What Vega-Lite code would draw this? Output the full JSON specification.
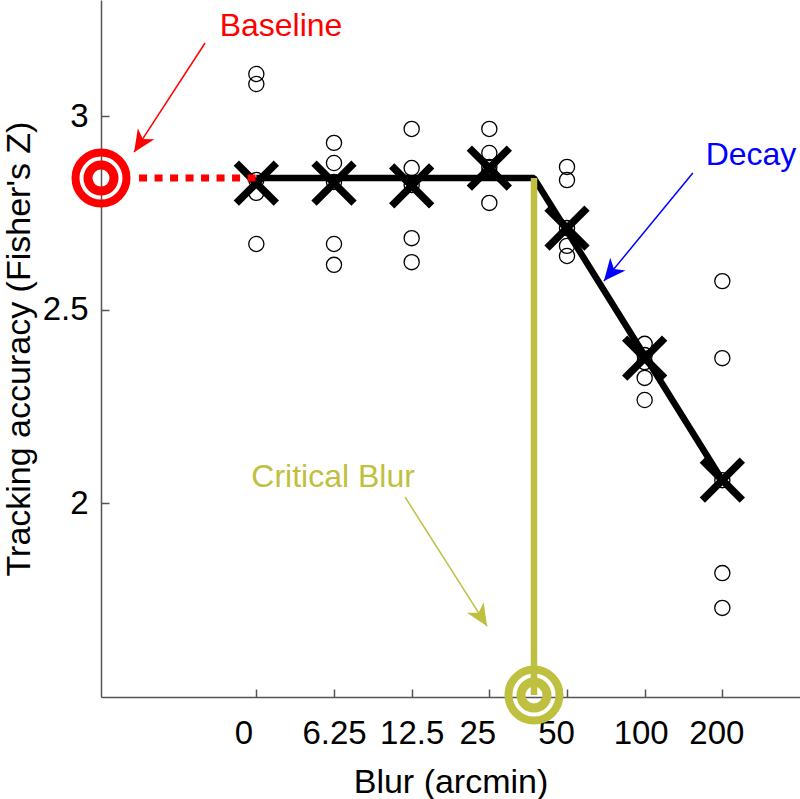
{
  "$schema": "https://vega.github.io/schema/vega-lite/v6.json",
  "width": 699,
  "height": 697,
  "autosize": {"type": "none"},
  "padding": {"left": 101, "top": 0, "right": 0, "bottom": 102},
  "background": "white",
  "config": {
    "view": {"stroke": null},
    "font": "Liberation Sans",
    "text": {"font": "Liberation Sans"}
  },
  "encoding": {
    "x": {
      "field": "x",
      "type": "quantitative",
      "scale": {"domain": [-2, 7], "nice": false, "zero": false},
      "axis": {
        "values": [0, 1, 2, 3, 4, 5, 6],
        "grid": false,
        "tickSize": -8,
        "tickWidth": 1.5,
        "tickColor": "#555555",
        "domainColor": "#555555",
        "domainWidth": 1.5,
        "labelFont": "Liberation Sans",
        "labelFontSize": 33,
        "labelColor": "black",
        "labelBaseline": "alphabetic",
        "labelPadding": 54,
        "labelFlush": false,
        "labelOverlap": false,
        "labelExpr": "datum.value == 0 ? '0' : datum.value == 1 ? '6.25' : datum.value == 2 ? '12.5' : datum.value == 3 ? '25' : datum.value == 4 ? '50' : datum.value == 5 ? '100' : '200'",
        "labelOffset": {
          "condition": [
            {"test": "datum.value == 0", "value": -13},
            {"test": "datum.value == 3", "value": -12},
            {"test": "datum.value == 4", "value": -11},
            {"test": "datum.value == 5", "value": -4},
            {"test": "datum.value == 6", "value": -6}
          ],
          "value": 0
        },
        "title": "Blur (arcmin)",
        "titleFont": "Liberation Sans",
        "titleFontSize": 34,
        "titleFontWeight": "normal",
        "titleColor": "black",
        "titleX": 349.5,
        "titleY": 95,
        "titleBaseline": "alphabetic",
        "titleAlign": "center"
      }
    },
    "y": {
      "field": "y",
      "type": "quantitative",
      "scale": {"domain": [1.5, 3.3], "nice": false, "zero": false},
      "axis": {
        "values": [2, 2.5, 3],
        "grid": false,
        "tickSize": -8,
        "tickWidth": 1.5,
        "tickColor": "#555555",
        "domainColor": "#555555",
        "domainWidth": 1.5,
        "labelFont": "Liberation Sans",
        "labelFontSize": 33,
        "labelColor": "black",
        "labelPadding": 21,
        "labelBaseline": "middle",
        "labelFlush": false,
        "labelOverlap": false,
        "labelExpr": "'' + datum.value",
        "title": "Tracking accuracy (Fisher's Z)",
        "titleFont": "Liberation Sans",
        "titleFontSize": 34,
        "titleFontWeight": "normal",
        "titleColor": "black",
        "titleAngle": -90,
        "titleX": -82,
        "titleY": 348.5,
        "titleBaseline": "middle",
        "titleAlign": "center"
      }
    }
  },
  "layer": [
    {
      "data": {"values": [
        {"x": 0, "y": 3.109}, {"x": 0, "y": 3.083}, {"x": 0, "y": 2.835}, {"x": 0, "y": 2.802}, {"x": 0, "y": 2.670},
        {"x": 1, "y": 2.931}, {"x": 1, "y": 2.879}, {"x": 1, "y": 2.830}, {"x": 1, "y": 2.670}, {"x": 1, "y": 2.616},
        {"x": 2, "y": 2.967}, {"x": 2, "y": 2.866}, {"x": 2, "y": 2.822}, {"x": 2, "y": 2.685}, {"x": 2, "y": 2.623},
        {"x": 3, "y": 2.967}, {"x": 3, "y": 2.905}, {"x": 3, "y": 2.869}, {"x": 3, "y": 2.856}, {"x": 3, "y": 2.776},
        {"x": 4, "y": 2.869}, {"x": 4, "y": 2.835}, {"x": 4, "y": 2.711}, {"x": 4, "y": 2.665}, {"x": 4, "y": 2.639},
        {"x": 5, "y": 2.412}, {"x": 5, "y": 2.383}, {"x": 5, "y": 2.365}, {"x": 5, "y": 2.324}, {"x": 5, "y": 2.267},
        {"x": 6, "y": 2.574}, {"x": 6, "y": 2.375}, {"x": 6, "y": 2.060}, {"x": 6, "y": 1.820}, {"x": 6, "y": 1.730}
      ]},
      "mark": {"type": "point", "shape": "circle", "filled": false, "stroke": "black", "strokeWidth": 1.3, "size": 230, "opacity": 1}
    },
    {
      "data": {"values": [{"x": 0, "y": 2.84}, {"x": 3.575, "y": 2.84}, {"x": 6, "y": 2.06}]},
      "mark": {"type": "line", "color": "black", "strokeWidth": 6.5, "strokeCap": "butt", "strokeJoin": "bevel"}
    },
    {
      "data": {"values": [
        {"x": 0, "y": 2.827}, {"x": 1, "y": 2.827}, {"x": 2, "y": 2.820}, {"x": 3, "y": 2.866},
        {"x": 4, "y": 2.711}, {"x": 5, "y": 2.375}, {"x": 6, "y": 2.060}
      ]},
      "mark": {"type": "point", "shape": "M-1,-1L1,1M1,-1L-1,1", "filled": false, "stroke": "black", "strokeWidth": 7.5, "strokeCap": "butt", "size": 1600, "opacity": 1}
    },
    {
      "data": {"values": [{"x": -1.51, "y": 2.84}, {"x": 0, "y": 2.84}]},
      "mark": {"type": "line", "color": "#FF0000", "strokeWidth": 7, "strokeDash": [8, 7.5], "strokeCap": "butt"}
    },
    {
      "data": {"values": [{"x": 3.575, "y": 2.84, "y2": 1.505}]},
      "mark": {"type": "rule", "color": "#BFBF40", "strokeWidth": 6.5, "strokeCap": "butt"},
      "encoding": {"y2": {"field": "y2"}}
    },
    {
      "data": {"values": [{"x": -2, "y": 2.84}]},
      "layer": [
        {"mark": {"type": "point", "shape": "circle", "filled": false, "stroke": "#FF0000", "strokeWidth": 8, "size": 2601, "opacity": 1}},
        {"mark": {"type": "point", "shape": "circle", "filled": false, "stroke": "#FF0000", "strokeWidth": 9, "size": 676, "opacity": 1}}
      ]
    },
    {
      "data": {"values": [{"x": 3.575, "y": 1.505}]},
      "layer": [
        {"mark": {"type": "point", "shape": "circle", "filled": false, "stroke": "#BFBF40", "strokeWidth": 8, "size": 2601, "opacity": 1}},
        {"mark": {"type": "point", "shape": "circle", "filled": false, "stroke": "#BFBF40", "strokeWidth": 9, "size": 676, "opacity": 1}}
      ]
    },
    {
      "data": {"values": [{"x": -0.66, "y": 3.189, "x2": -1.574, "y2": 2.907}]},
      "layer": [
        {"mark": {"type": "rule", "color": "#FF0000", "strokeWidth": 1.5}, "encoding": {"x2": {"field": "x2"}, "y2": {"field": "y2"}}},
        {"mark": {"type": "point", "shape": "M0,0L-0.45,1L0,0.72L0.45,1Z", "filled": true, "color": "#FF0000", "strokeWidth": 0, "size": 1936, "angle": 213.2, "opacity": 1},
         "encoding": {"x": {"field": "x2", "type": "quantitative"}, "y": {"field": "y2", "type": "quantitative"}}}
      ]
    },
    {
      "data": {"values": [{"x": 5.62, "y": 2.853, "x2": 4.475, "y2": 2.574}]},
      "layer": [
        {"mark": {"type": "rule", "color": "#0000FF", "strokeWidth": 1.5}, "encoding": {"x2": {"field": "x2"}, "y2": {"field": "y2"}}},
        {"mark": {"type": "point", "shape": "M0,0L-0.45,1L0,0.72L0.45,1Z", "filled": true, "color": "#0000FF", "strokeWidth": 0, "size": 1936, "angle": 219.5, "opacity": 1},
         "encoding": {"x": {"field": "x2", "type": "quantitative"}, "y": {"field": "y2", "type": "quantitative"}}}
      ]
    },
    {
      "data": {"values": [{"x": 1.916, "y": 2.016, "x2": 2.971, "y2": 1.683}]},
      "layer": [
        {"mark": {"type": "rule", "color": "#BFBF40", "strokeWidth": 1.5}, "encoding": {"x2": {"field": "x2"}, "y2": {"field": "y2"}}},
        {"mark": {"type": "point", "shape": "M0,0L-0.45,1L0,0.72L0.45,1Z", "filled": true, "color": "#BFBF40", "strokeWidth": 0, "size": 1936, "angle": 147.6, "opacity": 1},
         "encoding": {"x": {"field": "x2", "type": "quantitative"}, "y": {"field": "y2", "type": "quantitative"}}}
      ]
    },
    {
      "data": {"values": [
        {"x": 0.318, "y": 3.207, "label": "Baseline", "c": "Baseline"},
        {"x": 6.369, "y": 2.874, "label": "Decay", "c": "Decay"},
        {"x": 0.988, "y": 2.042, "label": "Critical Blur", "c": "Critical Blur"}
      ]},
      "mark": {"type": "text", "font": "Liberation Sans", "fontSize": 32, "align": "center", "baseline": "alphabetic"},
      "encoding": {
        "text": {"field": "label"},
        "color": {"field": "c", "type": "nominal", "scale": {"domain": ["Baseline", "Decay", "Critical Blur"], "range": ["#FF0000", "#0000FF", "#BFBF40"]}, "legend": null}
      }
    }
  ]
}
